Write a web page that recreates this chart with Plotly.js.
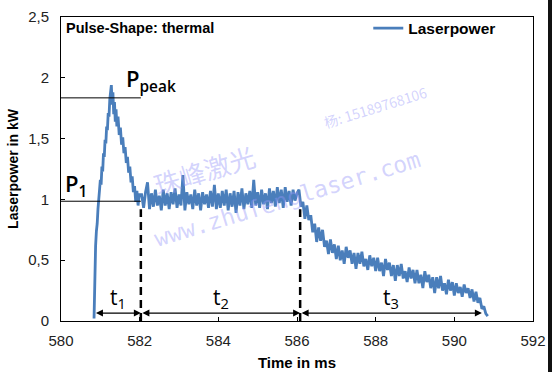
<!DOCTYPE html>
<html>
<head>
<meta charset="utf-8">
<script src="https://cdn.plot.ly/plotly-3.0.1.min.js"></script>
<style>
  html, body { margin: 0; padding: 0; background: #fff; }
  #chart { width: 552px; height: 372px; position: absolute; left: 0; top: 0; }
  #edge { position: absolute; right: 0; top: 0; width: 4px; height: 372px; background: #111; }
</style>
</head>
<body>
<div id="chart"></div>
<div id="edge"></div>
<script>
// ---- Data (time in ms, power in kW) ----
const riseTime = [580.84,580.85,580.86,580.88,580.90,580.92,580.94,580.96,580.98,
  581.00,581.02,581.04,581.06,581.08,581.10,581.12,581.14,581.16,581.18,581.20,581.22,581.24,581.26,581.28,581.30,581.32,581.34,581.36,581.38,581.40,581.42,
  581.45,581.48,581.51,581.54,581.57,581.60,581.63,581.66,581.69,581.72,581.75,581.78,581.81,581.84,581.87,581.90,581.93,581.96,581.99];
const risePower = [0.02,0.30,0.50,0.62,0.74,0.80,0.92,0.98,1.08,
  1.16,1.12,1.27,1.23,1.38,1.35,1.49,1.46,1.60,1.57,1.71,1.68,1.82,1.92,1.94,1.78,1.88,1.70,1.80,1.64,1.74,1.60,
  1.68,1.53,1.59,1.45,1.51,1.38,1.43,1.30,1.35,1.22,1.27,1.14,1.19,1.06,1.11,0.98,1.07,0.95,1.04];

const plateauTime = [
  582.05,582.10,582.15,582.20,582.25,582.30,582.35,582.40,582.45,582.50,
  582.55,582.60,582.65,582.70,582.75,582.80,582.85,582.90,582.95,583.00,
  583.05,583.10,583.15,583.20,583.25,583.30,583.35,583.40,583.45,583.50,
  583.55,583.60,583.65,583.70,583.75,583.80,583.85,583.90,583.95,584.00,
  584.05,584.10,584.15,584.20,584.25,584.30,584.35,584.40,584.45,584.50,
  584.55,584.60,584.65,584.70,584.75,584.80,584.85,584.90,584.95,585.00,
  585.05,585.10,585.15,585.20,585.25,585.30,585.35,585.40,585.45,585.50,
  585.55,585.60,585.65,585.70,585.75,585.80,585.85,585.90,585.95,586.00];
const plateauPower = [
  1.04,0.93,1.06,1.14,0.92,1.05,0.94,1.08,0.95,1.03,
  0.91,1.08,0.95,1.05,0.92,1.06,0.96,1.09,0.93,1.04,
  0.95,1.20,0.91,1.06,0.96,1.04,0.92,1.08,0.95,1.05,
  0.91,1.06,0.96,1.04,0.93,1.07,0.94,1.12,0.92,1.05,
  0.93,1.07,0.95,1.08,0.91,1.05,0.94,1.07,0.89,1.06,
  0.95,1.09,0.92,1.05,0.96,1.07,0.93,1.16,0.95,1.06,
  0.93,1.08,0.96,1.05,0.92,1.09,0.97,1.07,0.94,1.10,
  0.97,1.08,0.93,1.10,0.98,1.07,0.95,1.08,0.99,1.05];

const decayTime = [
  586.05,586.10,586.15,586.20,586.25,586.30,586.35,586.40,586.45,586.50,
  586.55,586.60,586.65,586.70,586.75,586.80,586.85,586.90,586.95,587.00,
  587.05,587.10,587.15,587.20,587.25,587.30,587.35,587.40,587.45,587.50,
  587.55,587.60,587.65,587.70,587.75,587.80,587.85,587.90,587.95,588.00,
  588.05,588.10,588.15,588.20,588.25,588.30,588.35,588.40,588.45,588.50,
  588.55,588.60,588.65,588.70,588.75,588.80,588.85,588.90,588.95,589.00,
  589.05,589.10,589.15,589.20,589.25,589.30,589.35,589.40,589.45,589.50,
  589.55,589.60,589.65,589.70,589.75,589.80,589.85,589.90,589.95,590.00,
  590.05,590.10,590.15,590.20,590.25,590.30,590.35,590.40,590.45,590.50,
  590.55,590.60,590.65,590.70,590.75,590.80,590.85];
const decayPower = [
  1.08,0.94,0.98,0.84,0.95,0.83,0.87,0.73,0.80,0.65,
  0.77,0.66,0.75,0.61,0.66,0.55,0.67,0.56,0.63,0.51,
  0.62,0.50,0.58,0.47,0.61,0.52,0.58,0.47,0.56,0.43,
  0.56,0.47,0.57,0.45,0.51,0.42,0.54,0.45,0.52,0.41,
  0.52,0.41,0.48,0.37,0.51,0.42,0.48,0.37,0.46,0.33,
  0.46,0.37,0.47,0.35,0.41,0.32,0.44,0.35,0.42,0.31,
  0.42,0.31,0.38,0.27,0.41,0.32,0.38,0.27,0.36,0.23,
  0.36,0.27,0.37,0.25,0.31,0.22,0.34,0.25,0.32,0.21,
  0.31,0.23,0.28,0.20,0.30,0.23,0.27,0.19,0.26,0.16,
  0.24,0.15,0.19,0.10,0.12,0.06,0.04];

// Marker levels and phase boundaries
const peakLevel = 1.835;
const p1Level = 0.985;
const phaseBounds = [580.85, 582.03, 586.08, 590.7];
const phaseLabels = ['t<sub>1</sub>', 't<sub>2</sub>', 't<sub>3</sub>'];
const dashTop = 0.92;
const arrowLevel = 0.065;
const xTicks = [580, 582, 584, 586, 588, 590, 592];
const yTicks = [0, 0.5, 1, 1.5, 2, 2.5];

// ---- Build ----
const time = riseTime.concat(plateauTime, decayTime);
const power = risePower.concat(plateauPower, decayPower);

const trace = {
  x: time, y: power, type: 'scatter', mode: 'lines',
  name: '<b>Laserpower</b>',
  line: { color: '#4a7ebb', width: 2.8 }
};

const shapes = [
  { type: 'line', xref: 'x', yref: 'y', x0: 580, x1: phaseBounds[1], y0: peakLevel, y1: peakLevel, line: { color: '#000', width: 1 } },
  { type: 'line', xref: 'x', yref: 'y', x0: 580, x1: phaseBounds[1], y0: p1Level, y1: p1Level, line: { color: '#000', width: 1 } },
  { type: 'line', xref: 'x', yref: 'y', x0: phaseBounds[1], x1: phaseBounds[1], y0: 0, y1: dashTop, line: { color: '#000', width: 2.5, dash: '8px,5px' } },
  { type: 'line', xref: 'x', yref: 'y', x0: phaseBounds[2], x1: phaseBounds[2], y0: 0, y1: dashTop, line: { color: '#000', width: 2.5, dash: '8px,5px' } }
];

const annotations = [];
for (let i = 0; i < 3; i++) {
  annotations.push({
    xref: 'x', yref: 'y', axref: 'x', ayref: 'y',
    x: phaseBounds[i + 1], y: arrowLevel, ax: phaseBounds[i], ay: arrowLevel,
    text: '', showarrow: true, arrowside: 'end+start',
    arrowhead: 2, startarrowhead: 2, arrowsize: 1, startarrowsize: 1,
    arrowwidth: 1.4, arrowcolor: '#000', standoff: 0, startstandoff: 0
  });
  annotations.push({
    xref: 'x', yref: 'y',
    x: (phaseBounds[i] + phaseBounds[i + 1]) / 2, y: 0.19,
    text: phaseLabels[i], showarrow: false,
    font: { family: 'Open Sans', size: 21, color: '#000' }
  });
}
annotations.push({
  xref: 'x', yref: 'y', x: 581.6, y: 1.98, xanchor: 'left', yanchor: 'middle',
  text: 'P<sub>peak</sub>', showarrow: false,
  font: { family: 'Open Sans', size: 22, color: '#000', weight: 600 }
});
annotations.push({
  xref: 'x', yref: 'y', x: 580.05, y: 1.12, xanchor: 'left', yanchor: 'middle',
  text: 'P<sub>1</sub>', showarrow: false,
  font: { family: 'Open Sans', size: 22, color: '#000', weight: 600 }
});
annotations.push({
  xref: 'paper', yref: 'paper', x: 0.007, y: 0.997, xanchor: 'left', yanchor: 'top',
  text: '<b>Pulse-Shape: thermal</b>', showarrow: false,
  font: { family: 'Liberation Sans', size: 14.5, color: '#000' }
});
// Watermark
const wm = 'rgba(150,150,250,0.42)';
annotations.push({ xref: 'x', yref: 'y', x: 583.64, y: 1.25, text: '珠峰激光', showarrow: false, textangle: -17,
  font: { family: 'Noto Sans CJK SC', size: 26, color: wm } });
annotations.push({ xref: 'x', yref: 'y', x: 588.0, y: 1.76, text: '杨: 15189768106', showarrow: false, textangle: -17,
  font: { family: 'Noto Sans CJK SC', size: 14, color: wm } });
annotations.push({ xref: 'x', yref: 'y', x: 585.75, y: 1.0, text: 'www.zhufenglaser.com', showarrow: false, textangle: -17,
  font: { family: 'DejaVu Sans Mono', size: 23, color: wm } });

const axisCommon = {
  showgrid: false, zeroline: false, showline: true, mirror: true,
  linecolor: '#000', linewidth: 1, ticks: 'inside', ticklen: 4, tickcolor: '#000',
  tickfont: { family: 'Liberation Sans', size: 15, color: '#222' }
};

const layout = {
  width: 552, height: 372,
  margin: { l: 61, r: 19, t: 12, b: 51 },
  paper_bgcolor: '#fff', plot_bgcolor: '#fff',
  separators: ',.',
  showlegend: true,
  legend: { x: 0.651, y: 1.018, xanchor: 'left', yanchor: 'top', bgcolor: 'rgba(0,0,0,0)',
    font: { family: 'Liberation Sans', size: 15.5, color: '#000' } },
  xaxis: Object.assign({}, axisCommon, {
    range: [580, 592], tickvals: xTicks, ticklabelstandoff: 6,
    title: { text: '<b>Time in ms</b>', font: { family: 'Liberation Sans', size: 15, color: '#000' }, standoff: 9 }
  }),
  yaxis: Object.assign({}, axisCommon, {
    range: [0, 2.5], tickvals: yTicks, ticklabelstandoff: 8,
    title: { text: '<b>Laserpower in kW</b>', font: { family: 'Liberation Sans', size: 14, color: '#000' }, standoff: 6 }
  }),
  shapes: shapes,
  annotations: annotations
};

Plotly.newPlot('chart', [trace], layout, { displayModeBar: false, staticPlot: true });
</script>
</body>
</html>
